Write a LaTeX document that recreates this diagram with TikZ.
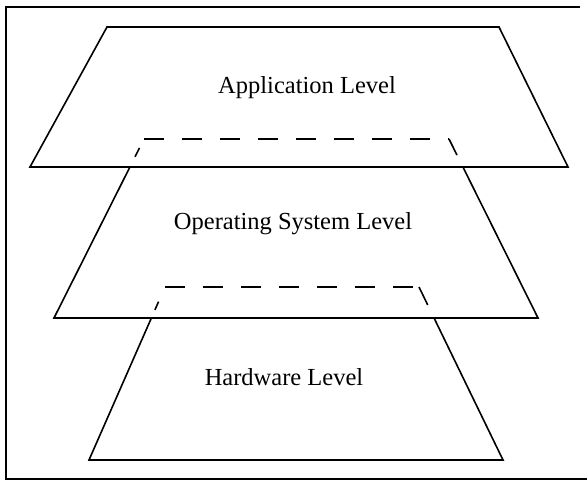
\documentclass[tikz,border=0pt]{standalone}
\usepackage{fontspec}
\setmainfont{Liberation Serif}
\usetikzlibrary{calc}
\begin{document}
\begin{tikzpicture}[x=1pt,y=-1pt,
  edge/.style={line width=1.6pt,line join=miter},
  hidden/.style={line width=1.6pt,dash pattern=on 20pt off 18pt},
  levellabel/.style={anchor=base,inner sep=0pt,font=\fontsize{24.5}{28}\selectfont}]
\useasboundingbox (0,0) rectangle (587,481);
% frame
\draw[line width=1.4pt] (580,7) -- (6,7) -- (6,479) -- (587,479);

% corner points
\coordinate (a1) at (107,27);  \coordinate (a2) at (499,27);
\coordinate (a3) at (568,167); \coordinate (a4) at (30,167);
\coordinate (m1) at (144,139); \coordinate (m2) at (449,139);
\coordinate (m3) at (538,318); \coordinate (m4) at (54,318);
\coordinate (b1) at (165,287); \coordinate (b2) at (419,287);
\coordinate (b3) at (503,460); \coordinate (b4) at (89,460);

% where lower sides pass under the level above
\coordinate (mL) at ($(m4)!0.8436!(m1)$);
\coordinate (mR) at ($(m3)!0.8436!(m2)$);
\coordinate (bL) at ($(b4)!0.8208!(b1)$);
\coordinate (bR) at ($(b3)!0.8208!(b2)$);

% application level
\draw[edge] (a1) -- (a2) -- (a3) -- (a4) -- cycle;
\node[levellabel] (app) at (307,94) {Application Level};

% operating system level
\draw[edge] (mL) -- (m4) -- (m3) -- (mR);
\draw[hidden] (m1) -- (m2);
\draw[line width=1.6pt,dash pattern=on 10pt off 22pt,dash phase=22pt] (m1) -- (mL);
\draw[line width=1.6pt,dash pattern=on 18pt off 20pt] (m2) -- (mR);
\node[levellabel] (os) at (293,230) {Operating System Level};

% hardware level
\draw[edge] (bL) -- (b4) -- (b3) -- (bR);
\draw[hidden] (b1) -- (b2);
\draw[line width=1.6pt,dash pattern=on 9pt off 30pt,dash phase=23pt] (b1) -- (bL);
\draw[line width=1.6pt,dash pattern=on 20pt off 20pt] (b2) -- (bR);
\node[levellabel] (hw) at (284,385) {Hardware Level};
\end{tikzpicture}
\end{document}
